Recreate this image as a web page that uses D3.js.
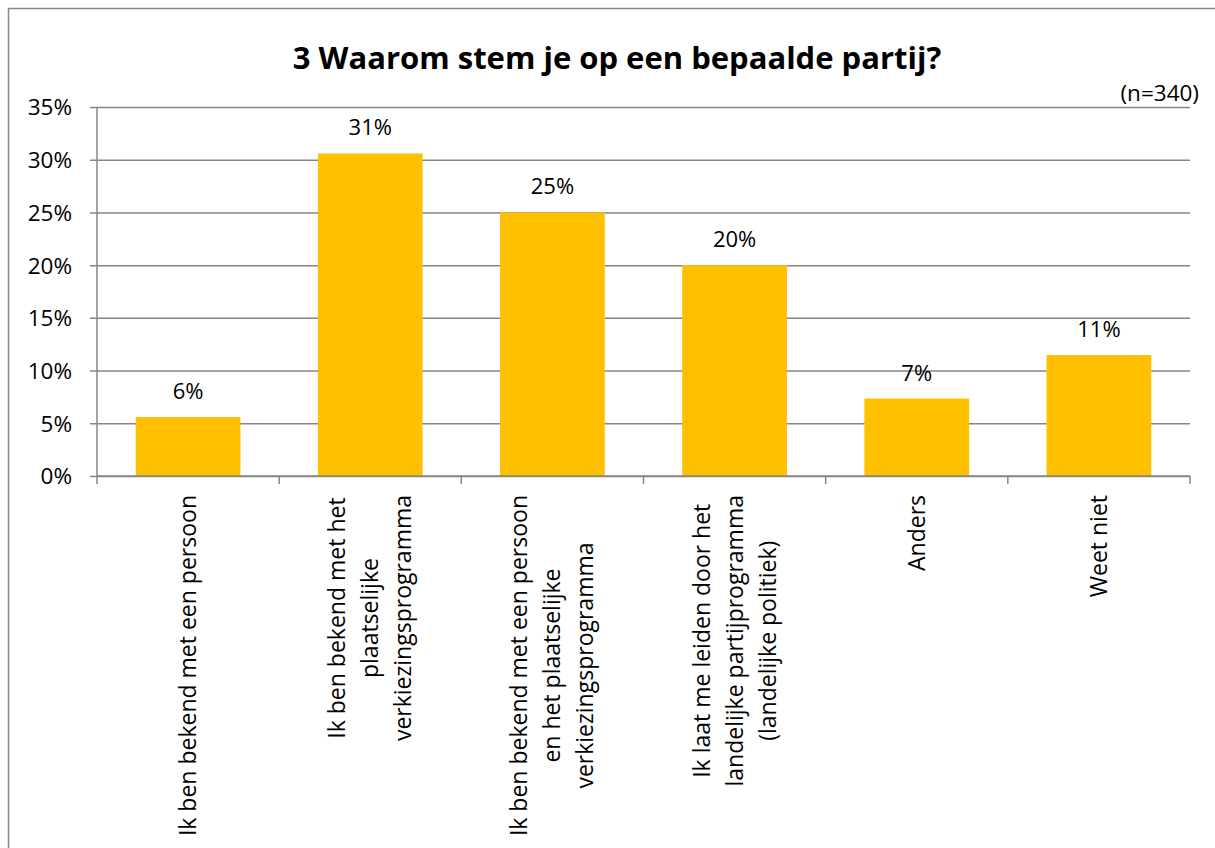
<!DOCTYPE html>
<html>
<head>
<meta charset="utf-8">
<script src="https://d3js.org/d3.v7.min.js"></script>
<style>
body { margin: 0; background: #fff; }
text { font-family: "Open Sans", sans-serif; fill: #000; }
</style>
</head>
<body>
<div id="svg_chart"></div>
<script>
var width = 1215;
var height = 848;

// data (n=340)
var categories = [
	["Ik ben bekend met een persoon"],
	["Ik ben bekend met het", "plaatselijke", "verkiezingsprogramma"],
	["Ik ben bekend met een persoon", "en het plaatselijke", "verkiezingsprogramma"],
	["Ik laat me leiden door het", "landelijke partijprogramma", "(landelijke politiek)"],
	["Anders"],
	["Weet niet"]
];
var values = [5.59, 30.59, 25.0, 20.0, 7.35, 11.47];
var valueLabels = ["6%", "31%", "25%", "20%", "7%", "11%"];
var yTicks = [0, 5, 10, 15, 20, 25, 30, 35];

var plot = { left: 97, right: 1190, top: 107, bottom: 476 };

var svg = d3.select("#svg_chart").append("svg")
	.attr("width", width)
	.attr("height", height);

// chart frame (only left and top edge are inside the picture)
svg.append("rect")
	.attr("x", 8.5).attr("y", 8.5)
	.attr("width", width + 20).attr("height", height + 20)
	.attr("fill", "none")
	.attr("stroke", "#868686")
	.attr("stroke-width", 1.5);

var x = d3.scaleBand()
	.domain(d3.range(categories.length))
	.range([plot.left, plot.right])
	.paddingInner(0.425)
	.paddingOuter(0.2125);

var y = d3.scaleLinear()
	.domain([0, 35])
	.range([plot.bottom, plot.top]);

// gridlines + y axis
var yAxis = svg.append("g")
	.attr("transform", "translate(" + plot.left + ",0)")
	.call(d3.axisLeft(y)
		.tickValues(yTicks)
		.tickSize(-(plot.right - plot.left))
		.tickPadding(0)
		.tickFormat(function (d) { return d + "%"; }));
yAxis.select(".domain").remove();
yAxis.selectAll("line")
	.attr("x1", -7)
	.attr("stroke", "#868686")
	.attr("stroke-width", 1.5);
yAxis.selectAll("text")
	.attr("x", -25)
	.attr("dy", "0.35em")
	.style("font-size", "22.5px")
	.style("font-family", "Open Sans, sans-serif");

svg.append("line")
	.attr("x1", plot.left).attr("x2", plot.left)
	.attr("y1", plot.top).attr("y2", plot.bottom)
	.attr("stroke", "#868686")
	.attr("stroke-width", 1.5);

// bars
svg.selectAll("rect.bar")
	.data(values)
	.enter().append("rect")
	.attr("class", "bar")
	.attr("x", function (d, i) { return x(i); })
	.attr("width", x.bandwidth())
	.attr("y", function (d) { return y(d); })
	.attr("height", function (d) { return y(0) - y(d); })
	.attr("fill", "#FFC000");

// value labels
svg.selectAll("text.value")
	.data(values)
	.enter().append("text")
	.attr("class", "value")
	.attr("x", function (d, i) { return x(i) + x.bandwidth() / 2; })
	.attr("y", function (d) { return y(d) - 18; })
	.attr("text-anchor", "middle")
	.style("font-size", "22px")
	.text(function (d, i) { return valueLabels[i]; });

// x axis line with category boundary ticks
var step = (plot.right - plot.left) / categories.length;
svg.append("line")
	.attr("x1", plot.left).attr("x2", plot.right)
	.attr("y1", plot.bottom).attr("y2", plot.bottom)
	.attr("stroke", "#868686")
	.attr("stroke-width", 1.5);
svg.selectAll("line.xtick")
	.data(d3.range(categories.length + 1))
	.enter().append("line")
	.attr("class", "xtick")
	.attr("x1", function (d) { return plot.left + d * step; })
	.attr("x2", function (d) { return plot.left + d * step; })
	.attr("y1", plot.bottom).attr("y2", plot.bottom + 8)
	.attr("stroke", "#868686")
	.attr("stroke-width", 1.5);

// rotated category labels, lines centred on each other, block hanging from the axis
var labelTop = 495;
var lineGap = 33;
categories.forEach(function (lines, i) {
	var cx = x(i) + x.bandwidth() / 2;
	var g = svg.append("g")
		.attr("transform", "translate(" + cx + "," + labelTop + ") rotate(-90)");
	var texts = g.selectAll("text")
		.data(lines)
		.enter().append("text")
		.attr("text-anchor", "middle")
		.attr("dy", "0.35em")
		.style("font-size", "23px")
		.attr("y", function (d, j) { return (j - (lines.length - 1) / 2) * lineGap; })
		.text(function (d) { return d; });
	var maxLen = d3.max(texts.nodes(), function (n) { return n.getComputedTextLength(); });
	texts.attr("x", -maxLen / 2);
});

// title
svg.append("text")
	.attr("x", 617)
	.attr("y", 69)
	.attr("text-anchor", "middle")
	.style("font-size", "31px")
	.style("font-weight", "bold")
	.text("3 Waarom stem je op een bepaalde partij?");

svg.append("text")
	.attr("x", 1199)
	.attr("y", 101)
	.attr("text-anchor", "end")
	.style("font-size", "22.5px")
	.text("(n=340)");
</script>
</body>
</html>
